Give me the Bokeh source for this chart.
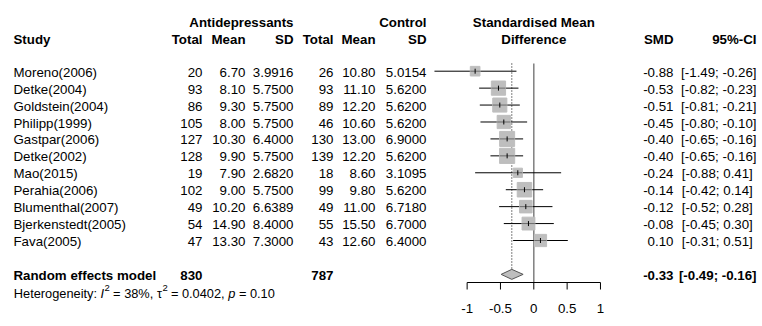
from bokeh.plotting import figure
from bokeh.models import Range1d, ColumnDataSource
from bokeh.core.properties import value
from bokeh.embed import file_html
from bokeh.resources import INLINE

# ---------------- data ----------------
studies = ["Moreno(2006)", "Detke(2004)", "Goldstein(2004)", "Philipp(1999)", "Gastpar(2006)",
           "Detke(2002)", "Mao(2015)", "Perahia(2006)", "Blumenthal(2007)", "Bjerkenstedt(2005)", "Fava(2005)"]
ant_n = [20, 93, 86, 105, 127, 128, 19, 102, 49, 54, 47]
ant_mean = [6.70, 8.10, 9.30, 8.00, 10.30, 9.90, 7.90, 9.00, 10.20, 14.90, 13.30]
ant_sd = [3.9916, 5.7500, 5.7500, 5.7500, 6.4000, 5.7500, 2.6820, 5.7500, 6.6389, 8.4000, 7.3000]
ctl_n = [26, 93, 89, 46, 130, 139, 18, 99, 49, 55, 43]
ctl_mean = [10.80, 11.10, 12.20, 10.60, 13.00, 12.20, 8.60, 9.80, 11.00, 15.50, 12.60]
ctl_sd = [5.0154, 5.6200, 5.6200, 5.6200, 6.9000, 5.6200, 3.1095, 5.6200, 6.7180, 6.7000, 6.4000]
smd = [-0.88, -0.53, -0.51, -0.45, -0.40, -0.40, -0.24, -0.14, -0.12, -0.08, 0.10]
ci_lo = [-1.49, -0.82, -0.81, -0.80, -0.65, -0.65, -0.88, -0.42, -0.52, -0.45, -0.31]
ci_hi = [-0.26, -0.23, -0.21, -0.10, -0.16, -0.16, 0.41, 0.14, 0.28, 0.30, 0.51]
weight = [4.9, 10.7, 10.5, 9.3, 11.9, 12.1, 4.5, 11.1, 8.3, 8.7, 7.9]  # % (random effects)

pooled_smd = -0.33
pooled_lo = -0.49
pooled_hi = -0.16
total_ant = 830
total_ctl = 787
i2 = 38
tau2 = 0.0402
p_het = 0.10

ticks = [-1, -0.5, 0, 0.5, 1]
tick_labels = ["-1", "-0.5", "0", "0.5", "1"]

# ---------------- layout helpers ----------------
W, H = 758, 322
X0, S = 533.3, 66.67          # page x of SMD=0, px per SMD unit
Y1, RH = 70.7, 16.93          # page y of row 1, row height in px


def dx(px):
    return (px - X0) / S


def row_of(py):
    return 1 + (py - Y1) / RH


FONT = value("Liberation Sans")
FS = "13.3px"

p = figure(width=W, height=H, output_backend="svg", toolbar_location=None,
           x_range=Range1d(dx(0), dx(W)),
           y_range=Range1d(row_of(H), row_of(0)),
           x_axis_location=None, y_axis_location=None,
           min_border=0, outline_line_color=None, background_fill_color="white",
           border_fill_color="white")
p.xgrid.visible = False
p.ygrid.visible = False

n = len(studies)
rows = list(range(1, n + 1))
trow = [r + 0.06 for r in rows]


def txt(x, y, t, align="left", bold=False, size=FS, italic=False):
    style = "bold" if bold else ("italic" if italic else "normal")
    src = ColumnDataSource(dict(x=x, y=y, t=t))
    p.text(x="x", y="y", text="t", source=src, text_align=align, text_baseline="middle",
           text_font=FONT, text_font_size=size, text_font_style=style, text_color="black")


# headers
hr1 = row_of(21.7)
hr2 = row_of(39.3)
txt([dx(293), dx(426)], [hr1, hr1], ["Antidepressants", "Control"], align="right", bold=True)
txt([0], [hr1], ["Standardised Mean"], align="center", bold=True)
txt([0], [hr2], ["Difference"], align="center", bold=True)
txt([dx(13)], [hr2], ["Study"], bold=True)
txt([dx(202), dx(245), dx(293), dx(333), dx(375), dx(426), dx(673), dx(756)], [hr2] * 8,
    ["Total", "Mean", "SD", "Total", "Mean", "SD", "SMD", "95%-CI"], align="right", bold=True)

# study rows
txt([dx(13)] * n, trow, studies)
txt([dx(202)] * n, trow, [str(v) for v in ant_n], align="right")
txt([dx(245)] * n, trow, [f"{v:.2f}" for v in ant_mean], align="right")
txt([dx(293)] * n, trow, [f"{v:.4f}" for v in ant_sd], align="right")
txt([dx(333)] * n, trow, [str(v) for v in ctl_n], align="right")
txt([dx(375)] * n, trow, [f"{v:.2f}" for v in ctl_mean], align="right")
txt([dx(426)] * n, trow, [f"{v:.4f}" for v in ctl_sd], align="right")
txt([dx(673)] * n, trow, [f"{v:.2f}" for v in smd], align="right")
txt([dx(756)] * n, trow, [f"[{a:5.2f}; {b:5.2f}]" for a, b in zip(ci_lo, ci_hi)], align="right")

# pooled row
prow = n + 2
txt([dx(13)], [prow + 0.06], ["Random effects model"], bold=True)
txt([dx(202), dx(333)], [prow + 0.06] * 2, [str(total_ant), str(total_ctl)], align="right", bold=True)
txt([dx(673)], [prow + 0.06], [f"{pooled_smd:.2f}"], align="right", bold=True)
txt([dx(756)], [prow + 0.06], [f"[{pooled_lo:5.2f}; {pooled_hi:5.2f}]"], align="right", bold=True)

# heterogeneity line (pieces for italics / superscripts; no leading/trailing blanks)
hrow = row_of(293)
HS = "12.8px"
SS = "9.5px"
sup = hrow - 0.3
txt([dx(13.3)], [hrow], ["Heterogeneity:"], size=HS)
txt([dx(100.1)], [hrow], ["I"], size=HS, italic=True)
txt([dx(104.0)], [sup], ["2"], size=SS)
txt([dx(112.6)], [hrow], [f"= {i2}%,"], size=HS)
txt([dx(156.4)], [hrow], ["\u03c4"], size=HS)
txt([dx(162.0)], [sup], ["2"], size=SS)
txt([dx(170.4)], [hrow], [f"= {tau2:.4f},"], size=HS)
txt([dx(227.7)], [hrow], ["p"], size=HS, italic=True)
txt([dx(238.4)], [hrow], [f"= {p_het:.2f}"], size=HS)

# reference lines
top = row_of(63)
axis_row = row_of(282)
dia_h = 5 / RH
p.segment(x0=[0], y0=[top], x1=[0], y1=[axis_row], line_color="#7f7f7f", line_width=1.5)
p.segment(x0=[pooled_smd], y0=[top], x1=[pooled_smd], y1=[prow - dia_h],
          line_color="black", line_width=1, line_dash="1 2")

# CIs, squares, centre ticks
p.segment(x0=ci_lo, y0=rows, x1=ci_hi, y1=rows, line_color="black", line_width=1)
sizes = [4.35 * (w ** 0.5) for w in weight]
p.scatter(x=smd, y=rows, marker="square", size=sizes, fill_color="#bebebe", line_color="#bebebe")
half = [s / 2 / S for s in sizes]
p.segment(x0=[m - h for m, h in zip(smd, half)], y0=rows, x1=[m + h for m, h in zip(smd, half)], y1=rows,
          line_color="#6a6a6a", line_width=1)
tk = 2.5 / RH
p.segment(x0=smd, y0=[r - tk for r in rows], x1=smd, y1=[r + tk for r in rows], line_color="black", line_width=1)

# diamond
p.patch(x=[pooled_lo, pooled_smd, pooled_hi, pooled_smd], y=[prow, prow - dia_h, prow, prow + dia_h],
        fill_color="#bebebe", line_color="#555555", line_width=1)

# x axis (drawn on the data scale)
p.segment(x0=[ticks[0]], y0=[axis_row], x1=[ticks[-1]], y1=[axis_row], line_color="black", line_width=1)
tick_len = 7 / RH
p.segment(x0=ticks, y0=[axis_row] * len(ticks), x1=ticks, y1=[axis_row + tick_len] * len(ticks),
          line_color="black", line_width=1)
txt(ticks, [row_of(308)] * len(ticks), tick_labels, align="center")

open("out.html", "w").write(file_html(p, INLINE))
